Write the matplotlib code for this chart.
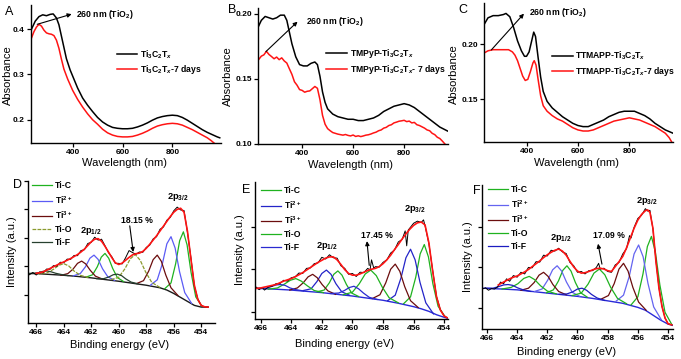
import numpy as np
import matplotlib
matplotlib.use('Agg')
import matplotlib.pyplot as plt
from matplotlib.ticker import FormatStrFormatter

plt.rcParams['font.family'] = ['Liberation Sans', 'DejaVu Sans']
plt.rcParams['mathtext.fontset'] = 'custom'
plt.rcParams['mathtext.rm'] = 'Liberation Sans:bold'
plt.rcParams['mathtext.it'] = 'Liberation Sans:italic:bold'
plt.rcParams['mathtext.bf'] = 'Liberation Sans:bold'

W, H = 681, 359
nan = np.nan

# ---------------- UV-Vis data ----------------
A_wl_black = [233, 250, 265, 280, 295, 310, 322, 335, 345, 355, 365, 375, 390, 405, 420, 440, 460, 480, 500, 520,
              540, 560, 580, 600, 620, 640, 660, 680, 700, 720, 740, 760, 780, 800, 820, 840, 860, 880, 900, 920,
              940, 960, 980, 990]
A_abs_black = [0.398, 0.418, 0.428, 0.432, 0.430, 0.433, 0.434, 0.425, 0.41, 0.385, 0.36, 0.335, 0.31, 0.29, 0.27,
               0.248, 0.232, 0.218, 0.205, 0.195, 0.188, 0.183, 0.181, 0.180, 0.180, 0.181, 0.184, 0.188, 0.193,
               0.199, 0.204, 0.207, 0.209, 0.210, 0.209, 0.205, 0.199, 0.192, 0.185, 0.178, 0.172, 0.167, 0.162,
               0.160]
A_wl_red = [233, 245, 255, 265, 275, 285, 295, 305, 315, 325, 335, 345, 355, 365, 380, 400, 420, 440, 460, 480,
            500, 520, 540, 560, 580, 600, 620, 640, 660, 680, 700, 720, 740, 760, 780, 800, 820, 840, 860, 880,
            900, 920, 940, 955, 967]
A_abs_red = [0.378, 0.395, 0.405, 0.411, 0.407, 0.398, 0.392, 0.390, 0.389, 0.386, 0.376, 0.358, 0.334, 0.312,
             0.29, 0.265, 0.245, 0.228, 0.213, 0.2, 0.19, 0.179, 0.171, 0.166, 0.163, 0.162, 0.162, 0.163, 0.166,
             0.170, 0.175, 0.181, 0.186, 0.189, 0.191, 0.192, 0.191, 0.188, 0.183, 0.178, 0.172, 0.166, 0.160,
             0.154, 0.1485]

B_wl_black = [228, 240, 255, 270, 285, 300, 315, 330, 340, 350, 360, 375, 390, 405, 420, 435, 450, 460, 470, 480,
              490, 500, 520, 540, 560, 580, 600, 620, 640, 660, 680, 700, 720, 740, 760, 780, 800, 820, 840, 860,
              880, 900, 920, 940, 960, 970]
B_abs_black = [0.19, 0.195, 0.198, 0.197, 0.196, 0.197, 0.199, 0.199, 0.195, 0.186, 0.177, 0.167, 0.161, 0.160,
               0.160, 0.162, 0.163, 0.161, 0.152, 0.140, 0.132, 0.127, 0.123, 0.121, 0.120, 0.119, 0.119, 0.118,
               0.118, 0.119, 0.120, 0.122, 0.125, 0.127, 0.129, 0.130, 0.131, 0.130, 0.128, 0.125, 0.122, 0.119,
               0.116, 0.113, 0.111, 0.110]
B_wl_red = [230, 240, 250, 260, 270, 280, 290, 300, 310, 320, 330, 340, 350, 360, 370, 380, 390, 400, 410, 420,
            430, 440, 450, 460, 470, 480, 490, 500, 510, 520, 530, 540, 550, 560, 570, 580, 590, 600, 610, 620,
            630, 640, 650, 660, 670, 680, 690, 700, 710, 720, 730, 740, 750, 760, 770, 780, 790, 800, 810, 820,
            830, 840, 850, 860, 870, 880, 890, 900, 910, 920, 930, 940, 950, 960]
B_abs_red = [0.165, 0.1675, 0.1685, 0.1712, 0.1688, 0.1672, 0.1655, 0.1668, 0.1648, 0.1662, 0.1638, 0.1622,
             0.1578, 0.1535, 0.1478, 0.1452, 0.1418, 0.1412, 0.1398, 0.1405, 0.1408, 0.1425, 0.1442, 0.1428,
             0.134, 0.122, 0.1152, 0.1118, 0.1102, 0.1088, 0.1082, 0.1076, 0.1072, 0.1068, 0.1073, 0.1066,
             0.1062, 0.1069, 0.1058, 0.1063, 0.1057, 0.1062, 0.1068, 0.1071, 0.1077, 0.1085, 0.1091, 0.1102,
             0.1108, 0.1122, 0.1128, 0.1142, 0.1148, 0.1162, 0.1168, 0.1175, 0.1178, 0.1182, 0.1172, 0.1176,
             0.1162, 0.1166, 0.1148, 0.1142, 0.1132, 0.1122, 0.1108, 0.1102, 0.1082, 0.1072, 0.1052, 0.1042,
             0.1022, 0.1000]

C_wl_black = [235, 250, 270, 290, 310, 320, 335, 350, 365, 380, 392, 400, 410, 420, 428, 435, 445, 455, 465, 480,
              500, 520, 540, 560, 580, 600, 620, 640, 660, 680, 700, 720, 740, 760, 780, 800, 820, 840, 860, 880,
              900, 920, 940, 960, 970]
C_abs_black = [0.218, 0.224, 0.226, 0.226, 0.227, 0.228, 0.225, 0.215, 0.203, 0.194, 0.189, 0.189, 0.193, 0.203,
               0.211, 0.207, 0.188, 0.170, 0.157, 0.148, 0.142, 0.138, 0.134, 0.131, 0.128, 0.126, 0.125, 0.125,
               0.127, 0.129, 0.131, 0.134, 0.136, 0.138, 0.139, 0.139, 0.139, 0.137, 0.135, 0.132, 0.128, 0.125,
               0.122, 0.120, 0.119]
C_wl_red = [235, 250, 270, 290, 310, 330, 345, 355, 365, 375, 385, 395, 405, 415, 425, 430, 437, 445, 455, 465,
            480, 500, 520, 540, 560, 580, 600, 620, 640, 660, 680, 700, 720, 740, 760, 780, 800, 820, 840, 860,
            880, 900, 920, 940, 955, 965]
C_abs_red = [0.192, 0.194, 0.195, 0.195, 0.195, 0.195, 0.193, 0.190, 0.185, 0.178, 0.171, 0.167, 0.168, 0.175,
             0.183, 0.185, 0.181, 0.168, 0.153, 0.144, 0.139, 0.135, 0.132, 0.130, 0.127, 0.124, 0.122, 0.121,
             0.121, 0.122, 0.124, 0.126, 0.128, 0.130, 0.131, 0.132, 0.133, 0.132, 0.131, 0.129, 0.127, 0.125,
             0.122, 0.119, 0.115, 0.111]

UV_ticks_x = [400, 600, 800]
A_ticks_y = [0.2, 0.3, 0.4]
B_ticks_y = [0.10, 0.15, 0.20]
C_ticks_y = [0.15, 0.20]
A_labels = [r'Ti$_{\mathrm{3}}$C$_{\mathrm{2}}$T$_{x}$', r'Ti$_{\mathrm{3}}$C$_{\mathrm{2}}$T$_{x}$-7 days']
B_labels = [r'TMPyP-Ti$_{\mathrm{3}}$C$_{\mathrm{2}}$T$_{x}$', r'TMPyP-Ti$_{\mathrm{3}}$C$_{\mathrm{2}}$T$_{x}$- 7 days']
C_labels = [r'TTMAPP-Ti$_{\mathrm{3}}$C$_{\mathrm{2}}$T$_{x}$', r'TTMAPP-Ti$_{\mathrm{3}}$C$_{\mathrm{2}}$T$_{x}$-7 days']
TIO2_LABEL = r'260 nm (TiO$_{\mathrm{2}}$)'

# ---------------- XPS data ----------------
XPS_ticks_x = [466, 464, 462, 460, 458, 456, 454]
XPS_species = ['Ti-C', r'Ti$^{\mathrm{2+}}$', r'Ti$^{\mathrm{3+}}$', 'Ti-O', 'Ti-F']

D_data_x = [466.5, 466.25, 466.0, 465.75, 465.5, 465.25, 465.0, 464.75, 464.5, 464.25, 464.0, 463.75, 463.5,
            463.25, 463.0, 462.75, 462.5, 462.25, 462.0, 461.75, 461.5, 461.25, 461.0, 460.75, 460.5, 460.25,
            460.0, 459.75, 459.5, 459.25, 459.0, 458.75, 458.5, 458.25, 458.0, 457.75, 457.5, 457.25, 457.0,
            456.75, 456.5, 456.25, 456.0, 455.75, 455.5, 455.25, 455.0, 454.75, 454.5, 454.25, 454.0, 453.75,
            453.5]
D_data_y = [1.70, 1.78, 1.69, 1.80, 1.76, 1.90, 1.89, 2.02, 2.00, 2.14, 2.12, 2.25, 2.24, 2.38, 2.37, 2.55, 2.58,
            2.80, 2.84, 3.02, 2.92, 2.95, 2.72, 2.48, 2.33, 2.10, 2.10, 2.08, 2.30, 2.55, 2.48, 2.42, 2.50, 2.49,
            2.66, 2.74, 2.96, 3.04, 3.30, 3.38, 3.62, 3.72, 3.95, 4.08, 3.98, 3.96, 3.18, 2.30, 1.30, 0.85, 0.61,
            0.57, 0.56]
D_env_x = [466.0, 465.75, 465.5, 465.25, 465.0, 464.75, 464.5, 464.25, 464.0, 463.75, 463.5, 463.25, 463.0,
           462.75, 462.5, 462.25, 462.0, 461.75, 461.5, 461.25, 461.0, 460.75, 460.5, 460.25, 460.0, 459.75,
           459.5, 459.25, 459.0, 458.75, 458.5, 458.25, 458.0, 457.75, 457.5, 457.25, 457.0, 456.75, 456.5,
           456.25, 456.0, 455.75, 455.5, 455.25, 455.0, 454.75, 454.5, 454.25, 454.0, 453.75, 453.5]
D_env_y = [1.75, 1.77, 1.80, 1.86, 1.92, 1.98, 2.04, 2.10, 2.15, 2.21, 2.27, 2.34, 2.41, 2.50, 2.60, 2.73, 2.86,
           2.95, 2.97, 2.88, 2.70, 2.50, 2.30, 2.12, 2.06, 2.11, 2.21, 2.31, 2.40, 2.44, 2.46, 2.52, 2.63, 2.77,
           2.92, 3.07, 3.24, 3.41, 3.58, 3.75, 3.90, 4.00, 4.04, 3.90, 3.22, 2.25, 1.33, 0.83, 0.62, 0.57, 0.56]
D_bg_x = [466.5, 466, 465, 464, 463, 462, 461, 460, 459, 458, 457, 456.5, 456, 455.5, 455, 454.5, 454, 453.5]
D_bg_y = [1.74, 1.74, 1.71, 1.68, 1.64, 1.59, 1.53, 1.47, 1.40, 1.33, 1.24, 1.16, 1.04, 0.90, 0.76, 0.62, 0.56, 0.56]
D_TiC_x = [453.95, 454.4, 454.74, 455.03, 455.3, 455.57, 455.86, 456.2, 456.65, nan,
           459.65, 460.1, 460.44, 460.73, 461.0, 461.27, 461.56, 461.9, 462.35]
D_TiC_y = [0.59, 0.92, 1.78, 2.75, 3.21, 2.90, 2.09, 1.41, 1.21, nan,
           1.46, 1.60, 1.92, 2.28, 2.45, 2.32, 1.98, 1.70, 1.62]
D_Ti2_x = [454.7, 455.2, 455.58, 455.9, 456.2, 456.5, 456.82, 457.2, 457.7, nan,
           460.3, 460.8, 461.18, 461.5, 461.8, 462.1, 462.42, 462.8, 463.3]
D_Ti2_y = [0.69, 1.07, 1.81, 2.64, 3.04, 2.79, 2.10, 1.52, 1.33, nan,
           1.50, 1.63, 1.91, 2.24, 2.39, 2.28, 1.98, 1.74, 1.66]
D_Ti3_x = [455.7, 456.2, 456.58, 456.9, 457.2, 457.5, 457.82, 458.2, 458.7, nan,
           461.2, 461.7, 462.08, 462.4, 462.7, 463.0, 463.32, 463.7, 464.2]
D_Ti3_y = [0.97, 1.24, 1.69, 2.17, 2.39, 2.23, 1.83, 1.49, 1.39, nan,
           1.55, 1.65, 1.86, 2.08, 2.18, 2.10, 1.90, 1.74, 1.68]
D_TiO_x = [457.0, 457.6, 458.05, 458.44, 458.8, 459.16, 459.55, 460.0, 460.6, nan,
           462.2, 462.8, 463.25, 463.64, 464.0, 464.36, 464.75, 465.2, 465.8]
D_TiO_y = [1.25, 1.43, 1.80, 2.21, 2.41, 2.26, 1.91, 1.61, 1.52, nan,
           1.60, 1.68, 1.83, 2.01, 2.09, 2.03, 1.89, 1.77, 1.72]
D_TiF_x = [458.6, 459.1, 459.48, 459.8, 460.1, 460.4, 460.72, 461.1, 461.6, nan,
           463.7, 464.2, 464.58, 464.9, 465.2, 465.5, 465.82, 466.2, 466.7]
D_TiF_y = [1.38, 1.44, 1.55, 1.67, 1.72, 1.70, 1.62, 1.56, 1.56, nan,
           1.67, 1.71, 1.75, 1.80, 1.83, 1.82, 1.77, 1.75, 1.74]

E_data_x = [466.3, 466.1, 465.9, 465.75, 465.5, 465.25, 465.0, 464.75, 464.5, 464.25, 464.0, 463.75, 463.5,
            463.25, 463.0, 462.75, 462.5, 462.25, 462.0, 461.75, 461.5, 461.25, 461.0, 460.75, 460.5, 460.25,
            460.0, 459.75, 459.5, 459.25, 459.0, 458.85, 458.75, 458.6, 458.5, 458.25, 458.0, 457.75, 457.5,
            457.25, 457.0, 456.75, 456.55, 456.45, 456.35, 456.0, 455.75, 455.5, 455.35, 455.25, 455.0, 454.75,
            454.5, 454.25, 454.0, 453.8]
E_data_y = [0.58, 0.52, 0.57, 0.51, 0.58, 0.60, 0.66, 0.66, 0.74, 0.72, 0.80, 0.82, 0.91, 0.90, 1.02, 1.03, 1.13,
            1.15, 1.28, 1.24, 1.34, 1.27, 1.26, 1.08, 1.02, 0.88, 0.90, 0.83, 0.93, 0.92, 1.02, 0.98, 1.22, 1.02,
            1.06, 1.05, 1.16, 1.22, 1.38, 1.45, 1.64, 1.70, 1.90, 1.55, 1.92, 2.08, 2.13, 2.10, 2.16, 2.02, 1.60,
            0.97, 0.36, 0.05, -0.10, -0.14]
E_env_x = [466.25, 466.0, 465.75, 465.5, 465.25, 465.0, 464.75, 464.5, 464.25, 464.0, 463.75, 463.5, 463.25,
           463.0, 462.75, 462.5, 462.25, 462.0, 461.75, 461.5, 461.25, 461.0, 460.75, 460.5, 460.25, 460.0,
           459.75, 459.5, 459.25, 459.0, 458.75, 458.5, 458.25, 458.0, 457.75, 457.5, 457.25, 457.0, 456.75,
           456.5, 456.25, 456.0, 455.75, 455.5, 455.25, 455.0, 454.75, 454.5, 454.25, 454.0, 453.8]
E_env_y = [0.55, 0.56, 0.58, 0.60, 0.62, 0.64, 0.68, 0.72, 0.75, 0.78, 0.82, 0.87, 0.92, 0.98, 1.04, 1.10, 1.16,
           1.21, 1.26, 1.29, 1.29, 1.22, 1.11, 0.99, 0.90, 0.86, 0.86, 0.89, 0.93, 0.97, 1.00, 1.02, 1.06, 1.13,
           1.22, 1.33, 1.46, 1.58, 1.71, 1.83, 1.94, 2.03, 2.09, 2.11, 2.04, 1.62, 0.95, 0.35, 0.04, -0.10, -0.14]
E_bg_x = [466.3, 465, 464, 463, 462, 461, 460, 459, 458, 457, 456, 455.5, 455, 454.5, 454, 453.8]
E_bg_y = [0.55, 0.53, 0.51, 0.48, 0.45, 0.41, 0.37, 0.32, 0.27, 0.20, 0.12, 0.07, 0.01, -0.07, -0.13, -0.15]
E_TiC_x = [453.95, 454.4, 454.74, 455.03, 455.3, 455.57, 455.86, 456.2, 456.65, nan,
           459.6, 460.05, 460.39, 460.68, 460.95, 461.22, 461.51, 461.85, 462.3]
E_TiC_y = [-0.11, 0.13, 0.66, 1.29, 1.58, 1.36, 0.81, 0.35, 0.19, nan,
           0.36, 0.44, 0.64, 0.86, 0.96, 0.88, 0.68, 0.51, 0.47]
E_Ti2_x = [454.7, 455.2, 455.58, 455.9, 456.2, 456.5, 456.82, 457.2, 457.7, nan,
           460.2, 460.7, 461.08, 461.4, 461.7, 462.0, 462.32, 462.7, 463.2]
E_Ti2_y = [-0.05, 0.21, 0.69, 1.22, 1.47, 1.27, 0.80, 0.39, 0.26, nan,
           0.39, 0.47, 0.66, 0.88, 0.98, 0.90, 0.71, 0.54, 0.50]
E_Ti3_x = [455.7, 456.2, 456.58, 456.9, 457.2, 457.5, 457.82, 458.2, 458.7, nan,
           461.1, 461.6, 461.98, 462.3, 462.6, 462.9, 463.22, 463.6, 464.1]
E_Ti3_y = [0.10, 0.26, 0.59, 0.95, 1.12, 1.00, 0.68, 0.40, 0.31, nan,
           0.41, 0.49, 0.64, 0.80, 0.88, 0.82, 0.68, 0.56, 0.51]
E_TiO_x = [457.0, 457.6, 458.05, 458.44, 458.8, 459.16, 459.55, 460.0, 460.6, nan,
           461.9, 462.5, 462.95, 463.34, 463.7, 464.06, 464.45, 464.9, 465.5]
E_TiO_y = [0.21, 0.33, 0.58, 0.85, 0.98, 0.89, 0.66, 0.46, 0.40, nan,
           0.45, 0.50, 0.61, 0.72, 0.78, 0.74, 0.65, 0.56, 0.53]
E_TiF_x = [458.4, 458.9, 459.28, 459.6, 459.9, 460.2, 460.52, 460.9, 461.4, nan,
           463.2, 463.7, 464.08, 464.4, 464.7, 465.0, 465.32, 465.7, 466.2]
E_TiF_y = [0.29, 0.34, 0.44, 0.54, 0.60, 0.57, 0.50, 0.44, 0.43, nan,
           0.49, 0.52, 0.56, 0.62, 0.64, 0.63, 0.59, 0.55, 0.55]

F_data_x = [466.3, 466.1, 465.9, 465.7, 465.5, 465.3, 465.1, 464.9, 464.7, 464.5, 464.25, 464.0, 463.75, 463.5,
            463.25, 463.0, 462.75, 462.5, 462.25, 462.0, 461.75, 461.5, 461.25, 461.0, 460.75, 460.5, 460.25,
            460.0, 459.75, 459.5, 459.25, 459.0, 458.75, 458.6, 458.5, 458.25, 458.0, 457.75, 457.5, 457.25,
            457.0, 456.75, 456.55, 456.45, 456.25, 456.0, 455.75, 455.5, 455.35, 455.2, 455.0, 454.8, 454.6,
            454.4, 454.2, 454.0, 453.75]
F_data_y = [0.47, 0.50, 0.44, 0.48, 0.47, 0.52, 0.64, 0.60, 0.72, 0.66, 0.80, 0.76, 0.88, 0.84, 1.00, 0.99, 1.14,
            1.13, 1.30, 1.28, 1.42, 1.40, 1.47, 1.38, 1.34, 1.12, 1.04, 0.88, 0.90, 0.84, 0.92, 0.92, 1.00, 1.10,
            0.96, 0.98, 0.90, 0.88, 1.06, 1.12, 1.33, 1.46, 1.78, 1.72, 1.98, 2.20, 2.28, 2.44, 2.38, 2.40, 1.94,
            1.16, 0.50, 0.05, -0.24, -0.38, -0.41]
F_env_x = [465.25, 465.0, 464.75, 464.5, 464.25, 464.0, 463.75, 463.5, 463.25, 463.0, 462.75, 462.5, 462.25,
           462.0, 461.75, 461.5, 461.25, 461.0, 460.75, 460.5, 460.25, 460.0, 459.75, 459.5, 459.25, 459.0,
           458.75, 458.5, 458.25, 458.0, 457.75, 457.5, 457.25, 457.0, 456.75, 456.5, 456.25, 456.0, 455.75,
           455.5, 455.35, 455.2, 455.0, 454.8, 454.6, 454.4, 454.2, 454.0, 453.75]
F_env_y = [0.57, 0.62, 0.67, 0.72, 0.76, 0.79, 0.84, 0.89, 0.95, 1.02, 1.09, 1.16, 1.24, 1.31, 1.37, 1.42, 1.45,
           1.40, 1.30, 1.15, 1.01, 0.91, 0.86, 0.87, 0.90, 0.94, 0.97, 0.98, 0.96, 0.92, 0.90, 1.02, 1.14, 1.27,
           1.48, 1.72, 1.96, 2.16, 2.30, 2.39, 2.41, 2.35, 1.96, 1.14, 0.49, 0.04, -0.24, -0.38, -0.41]
F_bg_x = [466.3, 465, 464, 463, 462, 461, 460, 459, 458, 457, 456, 455.5, 455, 454.5, 454, 453.7]
F_bg_y = [0.49, 0.47, 0.45, 0.41, 0.37, 0.33, 0.29, 0.24, 0.18, 0.12, 0.02, -0.05, -0.17, -0.29, -0.39, -0.42]
F_TiC_x = [453.75, 454.2, 454.54, 454.83, 455.1, 455.37, 455.66, 456.0, 456.45, nan,
           459.35, 459.8, 460.14, 460.43, 460.7, 460.97, 461.26, 461.6, 462.05]
F_TiC_y = [-0.40, -0.10, 0.57, 1.36, 1.76, 1.51, 0.84, 0.28, 0.08, nan,
           0.27, 0.38, 0.63, 0.91, 1.04, 0.93, 0.67, 0.45, 0.38]
F_Ti2_x = [454.45, 454.95, 455.33, 455.65, 455.95, 456.25, 456.57, 456.95, 457.45, nan,
           459.85, 460.35, 460.73, 461.05, 461.35, 461.65, 461.97, 462.35, 462.85]
F_Ti2_y = [-0.28, 0.03, 0.61, 1.26, 1.55, 1.33, 0.78, 0.32, 0.17, nan,
           0.29, 0.39, 0.64, 0.91, 1.04, 0.94, 0.69, 0.47, 0.41]
F_Ti3_x = [455.45, 455.95, 456.33, 456.65, 456.95, 457.25, 457.57, 457.95, 458.45, nan,
           460.75, 461.25, 461.63, 461.95, 462.25, 462.55, 462.87, 463.25, 463.75]
F_Ti3_y = [-0.05, 0.15, 0.51, 0.91, 1.10, 0.96, 0.60, 0.31, 0.22, nan,
           0.33, 0.41, 0.58, 0.78, 0.88, 0.81, 0.63, 0.49, 0.44]
F_TiO_x = [456.75, 457.35, 457.8, 458.19, 458.55, 458.91, 459.3, 459.75, 460.35, nan,
           461.4, 462.0, 462.45, 462.84, 463.2, 463.56, 463.95, 464.4, 465.0]
F_TiO_y = [0.11, 0.24, 0.51, 0.82, 0.96, 0.86, 0.59, 0.37, 0.31, nan,
           0.35, 0.42, 0.55, 0.70, 0.78, 0.73, 0.60, 0.51, 0.47]
F_TiF_x = [458.2, 458.7, 459.08, 459.4, 459.7, 460.0, 460.32, 460.7, 461.2, nan,
           463.1, 463.6, 463.98, 464.3, 464.6, 464.9, 465.22, 465.6, 466.1]
F_TiF_y = [0.19, 0.25, 0.34, 0.44, 0.49, 0.47, 0.40, 0.35, 0.34, nan,
           0.41, 0.45, 0.50, 0.56, 0.58, 0.57, 0.53, 0.49, 0.49]

D_ticks_y = [1, 2, 3, 4, 5]
E_ticks_y = [0, 1, 2]
F_ticks_y = [0, 1, 2]

# ---------------- figure ----------------
fig = plt.figure(figsize=(W / 100, H / 100), dpi=100)


def add_ax(l, r, t, b):
    return fig.add_axes([l / W, 1 - b / H, (r - l) / W, (b - t) / H])


def ftext(x, y, s, **kw):
    fig.text(x / W, 1 - y / H, s, **kw)


def style(ax):
    for side in ('top', 'right'):
        ax.spines[side].set_visible(False)
    for side in ('left', 'bottom'):
        ax.spines[side].set_linewidth(1.0)
    ax.tick_params(direction='out', length=3, width=0.9, pad=1.5, labelsize=6)
    for lab in ax.get_xticklabels() + ax.get_yticklabels():
        lab.set_fontweight('bold')


RED = '#ff1414'
TFS = 6.2


def uv_panel(box, xlim, ylim, xk, yk, xr, yr, labels, yt, fmt, arrow_tail, arrow_head, text_pos, leg_anchor):
    ax = add_ax(*box)
    ax.plot(xk, yk, color='black', lw=1.1, label=labels[0])
    ax.plot(xr, yr, color=RED, lw=1.1, label=labels[1])
    ax.set_xlim(*xlim)
    ax.set_ylim(*ylim)
    ax.set_xticks(UV_ticks_x)
    ax.set_yticks(yt)
    ax.yaxis.set_major_formatter(FormatStrFormatter(fmt))
    style(ax)
    ax.annotate('', xy=arrow_head, xytext=arrow_tail,
                arrowprops=dict(arrowstyle='-|>', color='black', lw=0.8, mutation_scale=6,
                                shrinkA=0, shrinkB=0))
    ax.text(text_pos[0], text_pos[1], TIO2_LABEL, fontsize=TFS, fontweight='bold', va='center', ha='left')
    ax.legend(loc='upper left', bbox_to_anchor=leg_anchor, frameon=False,
              handlelength=2.4, handletextpad=0.3, labelspacing=0.3, borderpad=0, borderaxespad=0,
              prop={'weight': 'bold', 'size': TFS})
    return ax


axA = uv_panel((31, 221, 5, 143), (233, 995), (0.1485, 0.4537), A_wl_black, A_abs_black, A_wl_red, A_abs_red,
               A_labels, A_ticks_y, '%.1f', (258, 0.411), (396, 0.4335), (413, 0.433), (0.45, 0.688))
axB = uv_panel((258, 448, 8, 144), (227, 972), (0.10, 0.2045), B_wl_black, B_abs_black, B_wl_red, B_abs_red,
               B_labels, B_ticks_y, '%.2f', (258, 0.171), (382, 0.194), (417, 0.1944), (0.36, 0.713))
axC = uv_panel((484, 673, 3, 142), (234.5, 970), (0.111, 0.2375), C_wl_black, C_abs_black, C_wl_red, C_abs_red,
               C_labels, C_ticks_y, '%.2f', (263, 0.1948), (390, 0.2278), (409, 0.2284), (0.36, 0.662))

for (x, y, s) in [(5, 12, 'A'), (228, 10, 'B'), (458, 10, 'C'), (13, 185, 'D'), (242, 190, 'E'), (473, 191, 'F')]:
    ftext(x, y, s, fontsize=9, va='center', ha='left')

for (x, y) in [(8, 75), (228, 76), (454, 74)]:
    ftext(x, y, 'Absorbance', fontsize=8, rotation=90, va='center', ha='center')
for (x, y) in [(124, 163), (351, 165), (577, 163)]:
    ftext(x, y, 'Wavelength (nm)', fontsize=8, va='center', ha='center')

GREEN = '#1fb21f'
BROWN = '#6b0d0d'


def xps_panel(box, xlim, ylim, yt, data, env, bg, comps, colors, styles, bgcolor, ann12, ann32, pct, arrow,
              leg_anchor):
    ax = add_ax(*box)
    ax.plot(bg[0], bg[1], color=bgcolor, lw=1.0)
    for (cx, cy), col, ls, lab in zip(comps, colors, styles, XPS_species):
        ax.plot(cx, cy, color=col, lw=0.9, ls=ls, label=lab)
    ax.plot(data[0], data[1], color='black', lw=0.7)
    ax.plot(env[0], env[1], color=RED, lw=1.2)
    ax.set_xlim(*xlim)
    ax.set_ylim(*ylim)
    ax.set_xticks(XPS_ticks_x)
    ax.set_yticks(yt)
    ax.set_yticklabels([])
    style(ax)
    ax.text(ann12[0], ann12[1], r'2p$_{\mathrm{1/2}}$', fontsize=TFS + 0.5, fontweight='bold', ha='center',
            va='center')
    ax.text(ann32[0], ann32[1], r'2p$_{\mathrm{3/2}}$', fontsize=TFS + 0.5, fontweight='bold', ha='center',
            va='center')
    ax.text(pct[0], pct[1], pct[2], fontsize=TFS, fontweight='bold', ha='center', va='center')
    ax.annotate('', xy=arrow[1], xytext=arrow[0],
                arrowprops=dict(arrowstyle='-|>', color='black', lw=0.8, mutation_scale=6,
                                shrinkA=0, shrinkB=0))
    ax.legend(loc='upper left', bbox_to_anchor=leg_anchor, frameon=False, handlelength=2.3, handletextpad=0.4,
              labelspacing=0.45, borderpad=0, borderaxespad=0, prop={'weight': 'bold', 'size': TFS})
    return ax


xps_panel((28, 215, 181, 323), (466.6, 453.0), (0, 5), D_ticks_y,
          (D_data_x, D_data_y), (D_env_x, D_env_y), (D_bg_x, D_bg_y),
          [(D_TiC_x, D_TiC_y), (D_Ti2_x, D_Ti2_y), (D_Ti3_x, D_Ti3_y), (D_TiO_x, D_TiO_y), (D_TiF_x, D_TiF_y)],
          [GREEN, '#5b5bf5', BROWN, '#8a9a2e', '#27402f'], ['-', '-', '-', (0, (3, 1)), '-'], '#1a1a1a',
          (462.0, 3.25), (455.7, 4.42), (458.7, 3.62, '18.15 %'), ((459.2, 3.42), (458.95, 2.5)), (0.02, 1.0))

xps_panel((255, 448, 182, 319), (466.37, 453.75), (-0.17, 3.05), E_ticks_y,
          (E_data_x, E_data_y), (E_env_x, E_env_y), (E_bg_x, E_bg_y),
          [(E_TiC_x, E_TiC_y), (E_Ti2_x, E_Ti2_y), (E_Ti3_x, E_Ti3_y), (E_TiO_x, E_TiO_y), (E_TiF_x, E_TiF_y)],
          [GREEN, '#2424c8', BROWN, GREEN, '#2a2ad0'], ['-'] * 5, '#2a2ad8',
          (461.7, 1.55), (455.95, 2.42), (458.4, 1.80, '17.45 %'), ((458.9, 1.09), (459.05, 1.66)), (0.03, 0.97))

xps_panel((482, 673, 185, 329), (466.33, 453.67), (-0.51, 3.02), F_ticks_y,
          (F_data_x, F_data_y), (F_env_x, F_env_y), (F_bg_x, F_bg_y),
          [(F_TiC_x, F_TiC_y), (F_Ti2_x, F_Ti2_y), (F_Ti3_x, F_Ti3_y), (F_TiO_x, F_TiO_y), (F_TiF_x, F_TiF_y)],
          [GREEN, '#6464f0', BROWN, GREEN, '#1c1cc0'], ['-'] * 5, '#2a2ad8',
          (461.1, 1.71), (455.43, 2.63), (457.9, 1.77, '17.09 %'), ((458.38, 1.08), (458.64, 1.58)), (0.03, 1.0))

for (x, y) in [(12, 252), (240, 250), (468, 257)]:
    ftext(x, y, 'Intensity (a.u.)', fontsize=8, rotation=90, va='center', ha='center')
for (x, y) in [(120, 345), (345, 344), (567, 352)]:
    ftext(x, y, 'Binding energy (eV)', fontsize=8, va='center', ha='center')

fig.savefig('out.png', dpi=100)
